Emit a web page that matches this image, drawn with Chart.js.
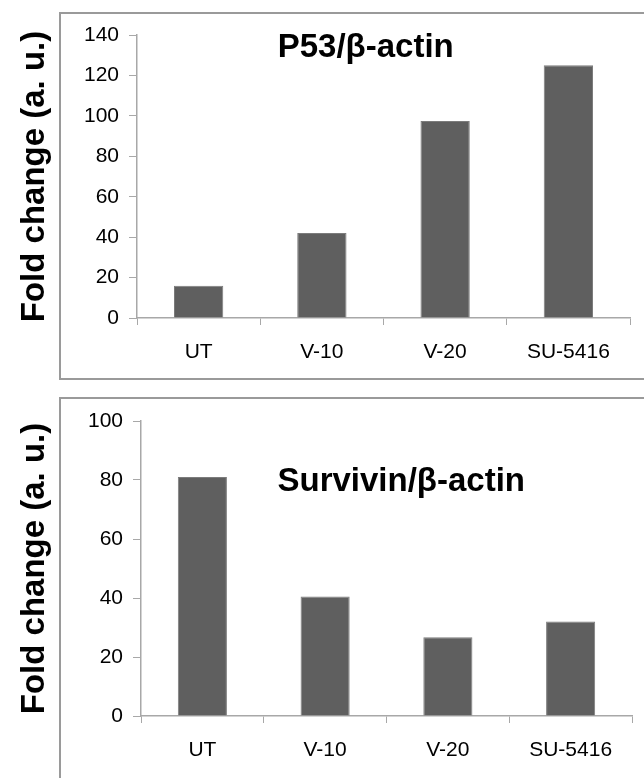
<!DOCTYPE html>
<html>
<head>
<meta charset="utf-8">
<script src="https://cdn.jsdelivr.net/npm/chart.js@4"></script>
<style>
  html, body { margin: 0; padding: 0; background: #fff; }
  body { width: 644px; height: 778px; position: relative; overflow: hidden; }
  .frame { position: absolute; left: 59px; border: 2px solid #9a9a9a; box-sizing: border-box; }
  #frame1 { top: 12px; width: 620px; height: 368px; }
  #frame2 { top: 397px; width: 620px; height: 420px; }
  canvas { position: absolute; left: 0; }
  #p53Chart { top: 0; }
  #survivinChart { top: 390px; }
</style>
</head>
<body>
<div class="frame" id="frame1"></div>
<div class="frame" id="frame2"></div>
<canvas id="p53Chart" width="644" height="390"></canvas>
<canvas id="survivinChart" width="644" height="388"></canvas>
<script>
// Treatment groups shared by both panels
const categories = ['UT', 'V-10', 'V-20', 'SU-5416'];

// P53 / beta-actin expression (fold change, a. u.)
const p53Values = [16, 42, 97.5, 125];
const p53AxisMax = 140;
const p53AxisStep = 20;

// Survivin / beta-actin expression (fold change, a. u.)
const survivinValues = [81, 40.5, 26.7, 32];
const survivinAxisMax = 100;
const survivinAxisStep = 20;

const FONT = '"Liberation Sans", Arial, Helvetica, sans-serif';
const AXIS_GREY = '#a8a8a8';
const BAR_GREY = '#5f5f5f';

// Bold caption drawn inside the plot area, placed as a fraction of its size
const panelCaption = {
  id: 'panelCaption',
  afterDatasetsDraw(chart, args, opts) {
    const { ctx, chartArea: a } = chart;
    ctx.save();
    ctx.font = 'bold ' + opts.size + 'px ' + FONT;
    ctx.fillStyle = '#000';
    ctx.textAlign = 'center';
    ctx.textBaseline = 'middle';
    ctx.fillText(opts.text,
      a.left + opts.fx * (a.right - a.left),
      a.top + opts.fy * (a.bottom - a.top));
    ctx.restore();
  }
};

function buildPanel(canvasId, values, axisMax, axisStep, caption, geom) {
  return new Chart(document.getElementById(canvasId), {
    type: 'bar',
    data: {
      labels: categories,
      datasets: [{
        data: values,
        backgroundColor: BAR_GREY,
        borderColor: '#7c7c7c',
        borderWidth: 1,
        barPercentage: 0.4,
        categoryPercentage: 1.0
      }]
    },
    plugins: [panelCaption],
    options: {
      responsive: false,
      animation: false,
      layout: { padding: { top: geom.top, right: geom.right, left: 0, bottom: 0 } },
      plugins: {
        legend: { display: false },
        tooltip: { enabled: false },
        panelCaption: { text: caption, size: 33, fx: geom.capX, fy: geom.capY }
      },
      scales: {
        x: {
          grid: { display: true, drawOnChartArea: false, offset: true, tickLength: 7, color: AXIS_GREY, lineWidth: 1 },
          border: { color: AXIS_GREY, width: 1.5 },
          ticks: { color: '#000', font: { family: FONT, size: 21 }, padding: 15 },
          afterFit(scale) { scale.height = geom.xHeight; }
        },
        y: {
          min: 0,
          max: axisMax,
          ticks: { stepSize: axisStep, color: '#000', font: { family: FONT, size: 21 }, padding: 10 },
          grid: { display: true, drawOnChartArea: false, tickLength: 8, color: AXIS_GREY, lineWidth: 1 },
          border: { color: AXIS_GREY, width: 1.5 },
          title: {
            display: true,
            text: 'Fold change (a. u.)',
            color: '#000',
            font: { family: FONT, size: 33, weight: 'bold' },
            padding: { top: 15, bottom: 0 }
          },
          afterFit(scale) { scale.width = geom.yWidth; }
        }
      }
    }
  });
}

buildPanel('p53Chart', p53Values, p53AxisMax, p53AxisStep, 'P53/\u03B2-actin',
  { top: 35, right: 14, xHeight: 72, yWidth: 137, capX: 0.464, capY: 0.046 });

buildPanel('survivinChart', survivinValues, survivinAxisMax, survivinAxisStep, 'Survivin/\u03B2-actin',
  { top: 31, right: 12, xHeight: 62, yWidth: 141, capX: 0.53, capY: 0.207 });
</script>
</body>
</html>
